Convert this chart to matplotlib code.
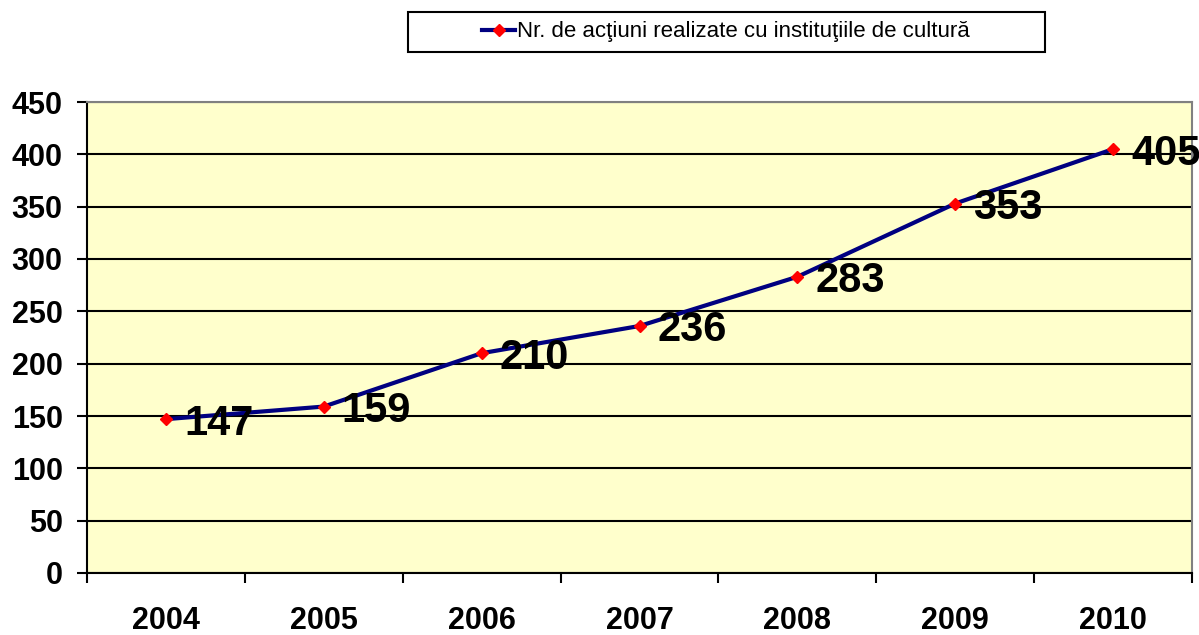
import matplotlib.pyplot as plt
from matplotlib.lines import Line2D
from matplotlib.patches import Rectangle

years = ['2004', '2005', '2006', '2007', '2008', '2009', '2010']
actions = [147, 159, 210, 236, 283, 353, 405]
label = 'Nr. de acţiuni realizate cu instituţiile de cultură'

plt.rcParams['font.family'] = ['Liberation Sans', 'DejaVu Sans']

fig = plt.figure(figsize=(11.99, 6.35), dpi=100)
ax = fig.add_axes([87 / 1199, 1 - 573 / 635, (1192 - 87) / 1199, (573 - 102) / 635])
ax.set_facecolor('#ffffcc')

xs = list(range(len(years)))
ax.plot(xs, actions, color='#000080', lw=3, marker='D', ms=6,
        mfc='red', mec='red', zorder=3)

for x, v in zip(xs, actions):
    ax.annotate(str(v), (x, v), xytext=(13, 0), textcoords='offset points',
                ha='left', va='center_baseline', fontsize=30, fontweight='bold',
                zorder=4, annotation_clip=False)

ax.set_xlim(-0.5, len(years) - 0.5)
ax.set_ylim(0, 450)
ax.set_yticks(range(0, 451, 50))
ax.yaxis.grid(True, color='black', lw=1.5)
ax.set_axisbelow(True)

ax.set_xticks([i - 0.5 for i in range(len(years) + 1)])
ax.set_xticklabels([])
ax.set_xticks(xs, minor=True)
ax.set_xticklabels(years, minor=True)
ax.tick_params(axis='x', which='major', length=7.5, width=1.5, direction='out')
ax.tick_params(axis='x', which='minor', length=0, pad=24, labelsize=22)
ax.tick_params(axis='y', length=7.5, width=1.5, labelsize=22, pad=10)
for t in ax.get_xticklabels(minor=True) + ax.get_yticklabels():
    t.set_fontweight('bold')

ax.spines['left'].set_linewidth(1.5)
ax.spines['bottom'].set_linewidth(1.5)
ax.spines['top'].set_color('#808080')
ax.spines['right'].set_color('#808080')
ax.spines['top'].set_linewidth(1.5)
ax.spines['right'].set_linewidth(1.5)

# legend box drawn by hand, it is wider than the entry
fig.patches.append(Rectangle((408 / 1199, 1 - 52 / 635), 637 / 1199, 40 / 635,
                             transform=fig.transFigure, fill=False,
                             edgecolor='black', lw=1.5))
handle = Line2D([], [], color='#000080', lw=3, marker='D', ms=6, mfc='red', mec='red')
fig.legend([handle], [label], loc='center', bbox_to_anchor=(726 / 1199, 1 - 32 / 635),
           fontsize=16, frameon=False, handlelength=1.5, handletextpad=0.1)

plt.savefig('out.png', dpi=100)
